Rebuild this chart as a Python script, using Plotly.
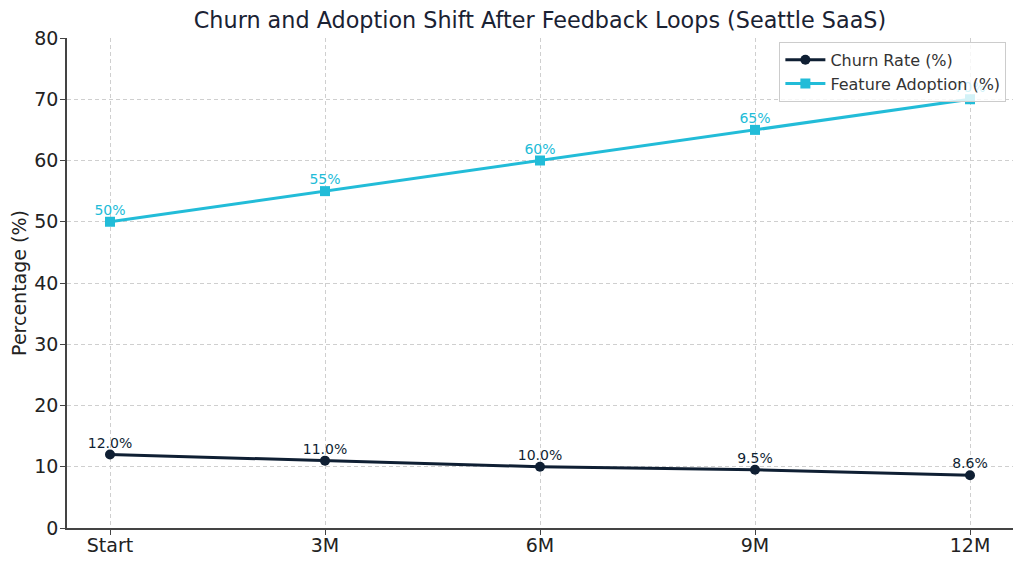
import plotly.graph_objects as go

# data
periods = ['Start', '3M', '6M', '9M', '12M']
churn_rate = [12.0, 11.0, 10.0, 9.5, 8.6]
feature_adoption = [50, 55, 60, 65, 70]

churn_labels = ['{:.1f}%'.format(v) for v in churn_rate]
adoption_labels = ['{}%'.format(v) for v in feature_adoption]

churn_color = '#0f1f33'
adoption_color = '#22bcd8'
font_family = 'DejaVu Sans'

fig = go.Figure()
fig.add_trace(go.Scatter(x=periods, y=churn_rate,
                         name='Churn Rate (%)',
                         mode='lines+markers',
                         line=dict(color=churn_color, width=3),
                         marker=dict(color=churn_color, size=10, symbol='circle')))
fig.add_trace(go.Scatter(x=periods, y=feature_adoption,
                         name='Feature Adoption (%)',
                         mode='lines+markers',
                         line=dict(color=adoption_color, width=3),
                         marker=dict(color=adoption_color, size=10, symbol='square')))

# value labels just above each point (traces, so the legend sits on top of them)
for ys, labels, color in [(churn_rate, churn_labels, churn_color),
                          (feature_adoption, adoption_labels, adoption_color)]:
    fig.add_trace(go.Scatter(x=periods, y=ys, mode='markers+text', text=labels,
                             textposition='top center', showlegend=False, hoverinfo='skip',
                             marker=dict(size=4, opacity=0),
                             textfont=dict(color=color, size=14)))

# page body has an 8px margin, so the figure is sized to fit the window
fig.update_layout(
    width=1016, height=556,
    margin=dict(l=59, r=11, t=30, b=36),
    paper_bgcolor='white',
    plot_bgcolor='white',
    font=dict(family=font_family, color='#222222'),
    title=dict(text='Churn and Adoption Shift After Feedback Loops (Seattle SaaS)',
               x=0.5236, xanchor='center', y=0.978, yanchor='middle',
               font=dict(size=22.3, color='#1a2233')),
    legend=dict(x=0.993, y=0.992, xanchor='right', yanchor='top',
                bgcolor='rgba(255,255,255,0.8)', bordercolor='#cccccc', borderwidth=1,
                font=dict(size=16, color='#333333'), itemwidth=40,
                tracegroupgap=0),
    showlegend=True,
)
fig.update_xaxes(range=[-0.2, 4.2], showline=True, linecolor='#444444', linewidth=1.5,
                 ticks='outside', ticklen=5, tickcolor='#444444', automargin=False,
                 ticklabelstandoff=-6,
                 showgrid=True, gridcolor='#cfcfcf', griddash='4px,3px', gridwidth=1,
                 tickfont=dict(size=19, color='#222222'), zeroline=False)
fig.update_yaxes(range=[0, 80], dtick=10, showline=True, linecolor='#444444', linewidth=1.5,
                 ticks='outside', ticklen=5, tickcolor='#444444', automargin=False,
                 ticklabelstandoff=-2,
                 showgrid=True, gridcolor='#cfcfcf', griddash='4px,3px', gridwidth=1,
                 tickfont=dict(size=19, color='#222222'), zeroline=False,
                 title=dict(text='Percentage (%)', font=dict(size=19, color='#222222'), standoff=4))

fig.write_html('out.html')
